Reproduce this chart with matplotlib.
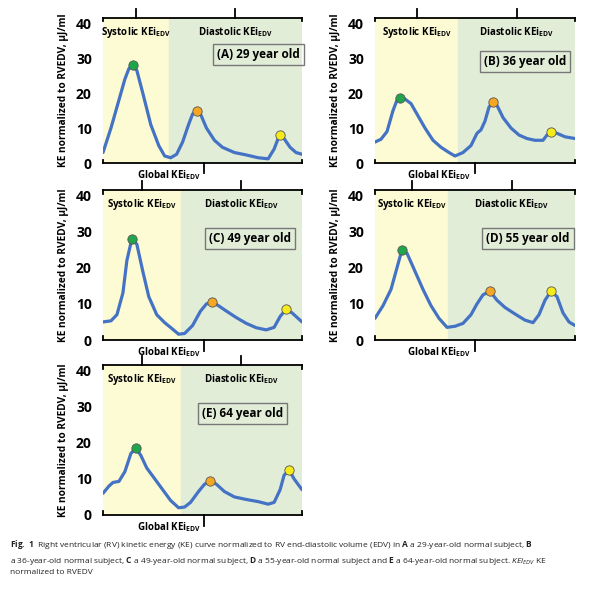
import numpy as np
import matplotlib.pyplot as plt

plt.rcParams['font.family'] = ['Open Sans', 'DejaVu Sans']
plt.rcParams['mathtext.fontset'] = 'custom'
plt.rcParams['mathtext.rm'] = 'Open Sans'
plt.rcParams['mathtext.bf'] = 'Open Sans:bold'
plt.rcParams['mathtext.it'] = 'Open Sans:italic'

W, H = 596, 589

# panel data: x in percent of cycle, y in uJ/ml
xa = [0, 4, 8, 11, 13, 15, 17, 20, 24, 28, 31, 34, 37, 40, 43, 45, 47, 49, 52, 56, 60, 66, 72, 78, 83, 86, 88, 89, 91, 94, 97, 100]
ya = [3, 10, 18, 24, 27, 28, 26.5, 20, 11, 5, 2, 1.5, 2.5, 6, 11, 14, 15, 14, 10, 6.5, 4.5, 3, 2.3, 1.5, 1.2, 4, 7, 8, 7, 4.5, 3, 2.5]
xb = [0, 3, 6, 9, 11, 12.5, 15, 18, 21, 25, 29, 33, 37, 40, 44, 48, 51, 53, 55, 57, 59, 61, 64, 68, 72, 76, 80, 84, 86, 88, 91, 95, 100]
yb = [6, 6.8, 9, 15, 18, 18.5, 18.3, 17, 14, 10, 6.5, 4.5, 3, 2, 3, 5, 8.5, 9.5, 12, 16, 17.5, 16.5, 13, 10, 8, 7, 6.5, 6.5, 8, 9, 8.5, 7.5, 7]
xc = [0, 4, 7, 10, 12, 14.5, 17, 20, 23, 27, 31, 35, 38, 41, 45, 49, 52, 55, 58, 62, 67, 72, 77, 82, 86, 89, 92, 95, 100]
yc = [5, 5.3, 7, 13, 22, 28, 26.5, 19, 12, 7, 4.8, 3, 1.6, 1.8, 4, 8, 10, 10.5, 9.5, 8, 6.2, 4.6, 3.4, 2.8, 3.5, 6.5, 8.5, 7.5, 5]
xd = [0, 4, 8, 11, 13.5, 16, 20, 24, 28, 32, 36, 40, 44, 48, 51, 54, 57.5, 61, 65, 70, 75, 79, 82, 85, 88, 91, 94, 97, 100]
yd = [6, 9.5, 14, 20, 25, 24, 19, 14, 9.5, 6, 3.5, 3.8, 4.6, 7, 10, 12.5, 13.5, 11, 9, 7.2, 5.5, 4.8, 7, 11, 13.5, 12, 7.5, 5, 4]
xe = [0, 3, 5, 8, 11, 14, 16.5, 19, 22, 26, 30, 34, 38, 41, 44, 48, 51, 54, 57, 61, 66, 72, 78, 83, 86, 89, 91, 93.5, 96, 100]
ye = [6, 8, 9, 9.3, 12, 17, 18.5, 16.5, 13, 10, 7, 4, 2, 2.2, 3.5, 6.5, 8.5, 9.5, 8.5, 6.5, 5, 4.3, 3.7, 3, 3.5, 7, 11, 12.5, 10, 7]

series = [xa, ya], [xb, yb], [xc, yc], [xd, yd], [xe, ye]
labels = ['(A) 29 year old', '(B) 36 year old', '(C) 49 year old', '(D) 55 year old', '(E) 64 year old']
boundary = [33, 41.5, 39, 36.5, 39]
peaks = [[(15, 28), (47, 15), (89, 8)],
         [(12.5, 18.5), (59, 17.5), (88, 9)],
         [(14.5, 28), (55, 10.5), (92, 8.5)],
         [(13.5, 25), (57.5, 13.5), (88, 13.5)],
         [(16.5, 18.5), (54, 9.5), (93.5, 12.5)]]
peak_colors = ['#1fa64a', '#f5a623', '#f7ea1a']
global_tick = [51, 50, 51, 50, 51]
box_pos = [(78, 31), (75, 29), (74, 28), (76.5, 28), (70, 28)]

# pixel boxes (left, top, right, bottom)
boxes = [(103, 18, 302, 163), (375, 18, 575, 163), (103, 190, 302, 340),
         (375, 190, 575, 340), (103, 365, 302, 515)]

fig = plt.figure(figsize=(W / 100, H / 100), dpi=100)

for i in range(5):
    l, t, r, b = boxes[i]
    ax = fig.add_axes([l / W, 1 - b / H, (r - l) / W, (b - t) / H])
    ax.set_xlim(0, 100)
    ax.set_ylim(0, 41.5)
    bd = boundary[i]
    ax.axvspan(0, bd, color='#fdfbd3', zorder=0)
    ax.axvspan(bd, 100, color='#e2edd8', zorder=0)
    x, y = series[i]
    ax.plot(x, y, color='#4472c4', lw=2.3, solid_joinstyle='round', solid_capstyle='round', zorder=2)
    for (px, py), c in zip(peaks[i], peak_colors):
        ax.scatter(px, py, s=45, color=c, edgecolor='#555555', lw=0.6, zorder=3)
    for s in ['left', 'right']:
        ax.spines[s].set_visible(False)
    ax.spines['top'].set_linewidth(1.3)
    ax.spines['bottom'].set_linewidth(1.3)
    ax.set_xticks([])
    ax.set_yticks([0, 10, 20, 30, 40])
    ax.tick_params(axis='y', length=0, labelsize=10, pad=8)
    for lab in ax.get_yticklabels():
        lab.set_fontweight('bold')
    ax.set_ylabel('KE normalized to RVEDV, μJ/ml', fontsize=7.3, fontweight='bold', labelpad=5)
    # top ticks and end brackets
    for tx in [bd / 2, (bd + 100) / 2]:
        ax.plot([tx, tx], [41.5, 44], color='black', lw=1.3, clip_on=False)
    for ex in [0, 100]:
        ax.plot([ex, ex], [41.5, 40.5], color='black', lw=1.3, clip_on=False)
        ax.plot([ex, ex], [0, 1], color='black', lw=1.3, clip_on=False)
    gt = global_tick[i]
    ax.plot([gt, gt], [0, -3], color='black', lw=1.3, clip_on=False)
    ax.text(gt - 2, -1.5, 'Global KEi$_{\\mathregular{EDV}}$', ha='right', va='top',
            fontsize=7, fontweight='bold')
    ax.text(bd / 2, 39.5, 'Systolic KEi$_{\\mathregular{EDV}}$', ha='center', va='top',
            fontsize=7, fontweight='bold')
    ax.text((bd + 100) / 2, 39.5, 'Diastolic KEi$_{\\mathregular{EDV}}$', ha='center', va='top',
            fontsize=7, fontweight='bold')
    bx, by = box_pos[i]
    ax.text(bx, by, labels[i], ha='center', va='center', fontsize=8.5, fontweight='bold',
            bbox=dict(boxstyle='square,pad=0.35', fc='none', ec='#777777', lw=1))

fig.text(10 / W, 1 - 538 / H,
         r'$\bf{Fig.\ 1}$  Right ventricular (RV) kinetic energy (KE) curve normalized to RV end-diastolic volume (EDV) in $\bf{A}$ a 29-year-old normal subject, $\bf{B}$'
         '\n' r'a 36-year-old normal subject, $\bf{C}$ a 49-year-old normal subject, $\bf{D}$ a 55-year-old normal subject and $\bf{E}$ a 64-year-old normal subject. $KEi_{EDV}$ KE'
         '\nnormalized to RVEDV',
         fontsize=6.0, va='top', ha='left', linespacing=1.5, color='#222222')

fig.savefig('out.png', dpi=100)
